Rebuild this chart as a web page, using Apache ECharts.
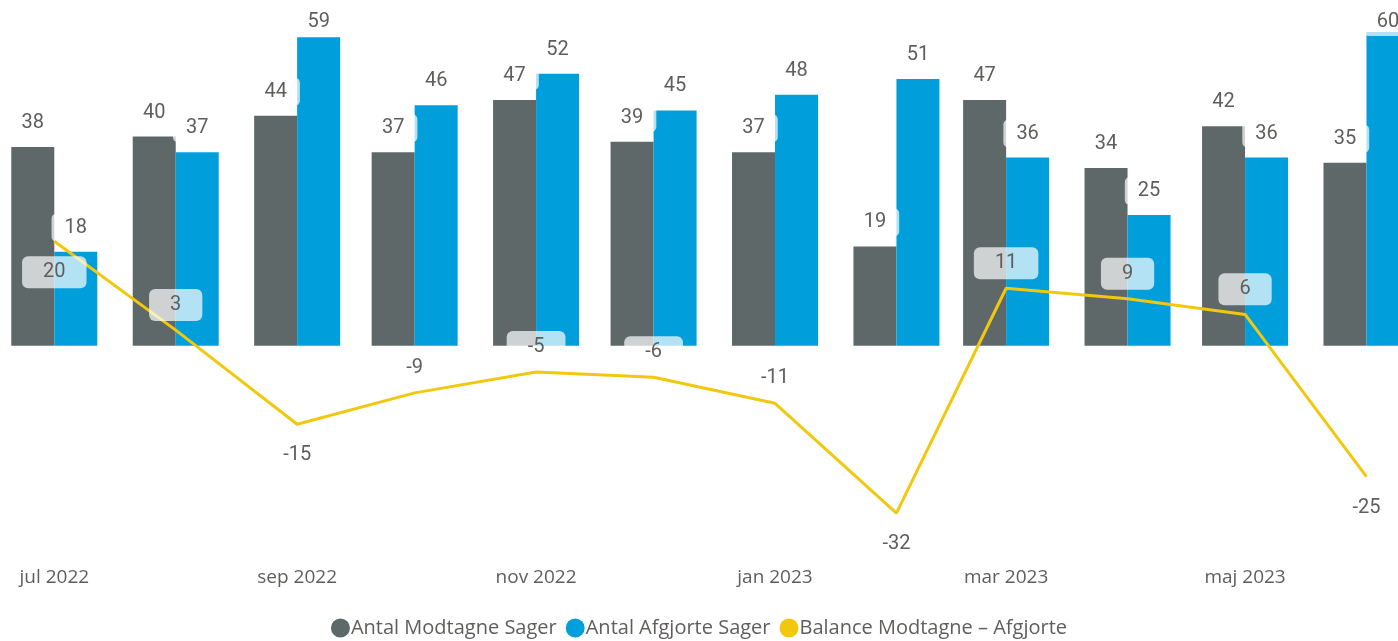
<!DOCTYPE html>
<html>
<head>
<meta charset="utf-8">
<script src="https://cdn.jsdelivr.net/npm/echarts@6/dist/echarts.min.js"></script>
<style>
  html, body { margin: 0; padding: 0; background: #fff; }
  #chart { width: 1398px; height: 641px; }
</style>
</head>
<body>
<div id="chart"></div>
<script>
// months (first day of month is the data point on the date axis)
const months = ['2022-07', '2022-08', '2022-09', '2022-10', '2022-11', '2022-12',
  '2023-01', '2023-02', '2023-03', '2023-04', '2023-05', '2023-06']
const modtagne = [38, 40, 44, 37, 47, 39, 37, 19, 47, 34, 42, 35]
const afgjorte = [18, 37, 59, 46, 52, 45, 48, 51, 36, 25, 36, 60]
const balance = [20, 3, -15, -9, -5, -6, -11, -32, 11, 9, 6, -25]

const tickMonths = ['2022-07', '2022-09', '2022-11', '2023-01', '2023-03', '2023-05']
const tickLabels = ['jul 2022', 'sep 2022', 'nov 2022', 'jan 2023', 'mar 2023', 'maj 2023']

// where the balance label sits relative to its point
const balanceLabelSide = ['bottom', 'top', 'bottom', 'top', 'top', 'top',
  'top', 'bottom', 'top', 'top', 'top', 'bottom']

// days since 2022-07-01 (dates as a plain numeric axis)
const DAY = 86400000
const origin = Date.UTC(2022, 6, 1)
function toDay(s) {
  const [y, m] = s.split('-').map(Number)
  return Math.round((Date.UTC(y, m - 1, 1) - origin) / DAY)
}

const pxPerDay = 3.917
const xMin = -13.86
const xMax = xMin + 1398 / pxPerDay

const tickDays = tickMonths.map(toDay)

const textColor = '#605e5c'
const labelFont = 'Roboto, "DejaVu Sans", sans-serif'
const uiFont = '"Open Sans", "Noto Sans", sans-serif'

const barLabel = {
  show: true,
  position: 'top',
  distance: 12,
  color: textColor,
  fontFamily: labelFont,
  fontSize: 20,
  backgroundColor: 'rgba(255,255,255,0.7)',
  borderRadius: 5,
  padding: [4, 13],
  formatter: p => p.value[1]
}

// keep bar labels inside the top of the plot
const keepInside = params => ({ dy: Math.max(2, 8 - params.labelRect.y) })

const chart = echarts.init(document.getElementById('chart'))

const option = {
  backgroundColor: '#fff',
  animation: false,
  grid: {
    left: 0,
    right: 0,
    top: 32,
    height: 523
  },
  legend: {
    top: 613,
    left: 'center',
    icon: 'circle',
    itemWidth: 19,
    itemHeight: 19,
    itemGap: 9,
    textStyle: { color: textColor, fontFamily: uiFont, fontSize: 20, padding: [0, 0, 0, -4] },
    data: ['Antal Modtagne Sager', 'Antal Afgjorte Sager', 'Balance Modtagne – Afgjorte']
  },
  xAxis: {
    type: 'value',
    min: xMin,
    max: xMax,
    axisLine: { show: false },
    axisTick: { show: false },
    splitLine: { show: false },
    axisLabel: {
      customValues: tickDays,
      margin: 13,
      color: textColor,
      fontFamily: uiFont,
      fontSize: 19,
      hideOverlap: false,
      formatter: v => tickLabels[tickDays.indexOf(v)] || ''
    }
  },
  yAxis: {
    type: 'value',
    min: -40,
    max: 60,
    show: false,
    splitLine: { show: false }
  },
  series: [
    {
      name: 'Antal Modtagne Sager',
      type: 'bar',
      barWidth: 43,
      barGap: '0%',
      itemStyle: { color: '#5e6869' },
      label: barLabel,
      labelLayout: keepInside,
      data: months.map((m, i) => [toDay(m), modtagne[i]])
    },
    {
      name: 'Antal Afgjorte Sager',
      type: 'bar',
      barWidth: 43,
      barGap: '0%',
      itemStyle: { color: '#009fdb' },
      label: barLabel,
      labelLayout: keepInside,
      data: months.map((m, i) => [toDay(m), afgjorte[i]])
    },
    {
      name: 'Balance Modtagne – Afgjorte',
      type: 'line',
      showSymbol: true,
      symbol: 'circle',
      symbolSize: 0.1,
      z: 5,
      lineStyle: { color: '#f2c80f', width: 3 },
      itemStyle: { color: '#f2c80f' },
      label: {
        show: true,
        distance: 12,
        color: textColor,
        fontFamily: labelFont,
        fontSize: 20,
        backgroundColor: 'rgba(255,255,255,0.7)',
        borderRadius: 6,
        padding: [6, 21],
        formatter: p => p.value[1]
      },
      labelLayout: { dy: 3 },
      data: months.map((m, i) => ({
        value: [toDay(m), balance[i]],
        label: { position: balanceLabelSide[i] }
      }))
    }
  ]
}

option && chart.setOption(option)
</script>
</body>
</html>
